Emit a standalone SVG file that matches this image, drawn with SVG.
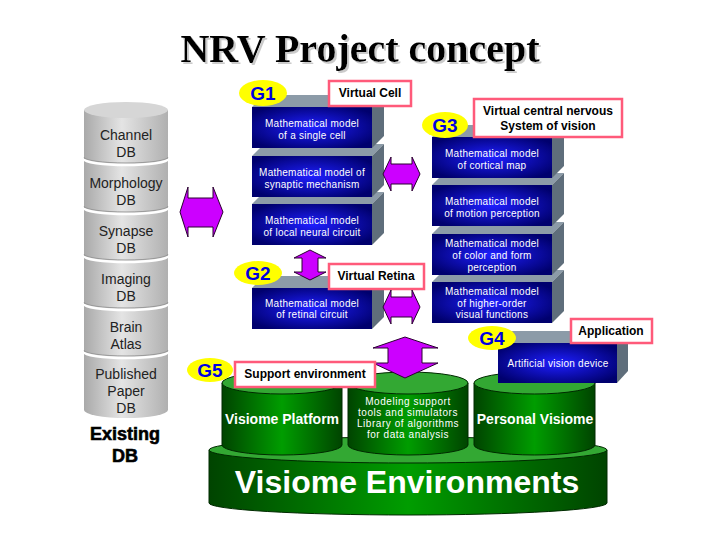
<svg xmlns="http://www.w3.org/2000/svg" width="720" height="540" viewBox="0 0 720 540">
<defs>
<linearGradient id="gray" x1="0" y1="0" x2="1" y2="0">
<stop offset="0" stop-color="#a9a9a9"/><stop offset="0.45" stop-color="#e4e4e4"/><stop offset="1" stop-color="#b0b0b0"/>
</linearGradient>
<linearGradient id="green" x1="0" y1="0" x2="1" y2="0">
<stop offset="0" stop-color="#004400"/><stop offset="0.5" stop-color="#009d00"/><stop offset="1" stop-color="#004400"/>
</linearGradient>
<radialGradient id="blue" cx="0.5" cy="0.5" r="0.6">
<stop offset="0" stop-color="#1e1eff"/><stop offset="1" stop-color="#00006e"/>
</radialGradient>
<filter id="shadow" x="-5%" y="-20%" width="110%" height="140%">
<feOffset in="SourceAlpha" dx="2" dy="2" result="o"/>
<feColorMatrix in="o" type="matrix" values="0 0 0 0 0.6  0 0 0 0 0.6  0 0 0 0 0.6  0 0 0 1 0" result="g"/>
<feMerge><feMergeNode in="g"/><feMergeNode in="SourceGraphic"/></feMerge>
</filter>
<style>
.t{font-family:"Liberation Sans",Arial,sans-serif}
.title{font-family:"Liberation Serif","Times New Roman",serif;font-weight:bold;font-size:40px}
.db{font-family:"Liberation Sans",Arial,sans-serif;font-size:14px;fill:#222;text-anchor:middle}
.sep{fill:none;stroke:#fff;stroke-width:2.5}
.sep2{fill:none;stroke:#999;stroke-width:1}
.front{fill:url(#blue)}
.top{fill:#8c9ba8}
.side{fill:#5f6e7b}
.bt{font-family:"Liberation Sans",Arial,sans-serif;font-size:10px;fill:#fff;text-anchor:middle;letter-spacing:0.25px}
.mt{font-family:"Liberation Sans",Arial,sans-serif;font-size:10px;fill:#fff;text-anchor:middle;letter-spacing:0.55px}
.gel{fill:#ffff00}
.gt{font-family:"Liberation Sans",Arial,sans-serif;font-size:19px;font-weight:bold;fill:#0000e0;text-anchor:middle}
.lab{fill:#fff;stroke:#ff5a7a;stroke-width:2.5}
.lt{font-family:"Liberation Sans",Arial,sans-serif;font-size:12px;font-weight:bold;fill:#000;text-anchor:middle}
.arr{fill:#cc00ff;stroke:#2a0030;stroke-width:1}
.cyl{fill:url(#green);stroke:#002a00;stroke-width:1}
.ctop{fill:#33a833;stroke:#002a00;stroke-width:1}
.gtx{font-family:"Liberation Sans",Arial,sans-serif;font-weight:bold;fill:#fff;text-anchor:middle}
</style>
</defs>
<rect width="720" height="540" fill="#fff"/>

<g id="title">
<text class="title" x="360" y="62" fill="#000" text-anchor="middle" filter="url(#shadow)">NRV Project concept</text>
</g>

<g id="existing-db">
<path d="M84,110 L84,410 A42,8 0 0 0 168,410 L168,110 Z" fill="url(#gray)"/>
<ellipse cx="126" cy="110" rx="42" ry="8" fill="#d6d6d6"/>
<path class="sep2" d="M84,157 A42,6 0 0 0 168,157"/>
<path class="sep" d="M84,159 A42,6 0 0 0 168,159"/>
<path class="sep2" d="M84,206 A42,6 0 0 0 168,206"/>
<path class="sep" d="M84,208 A42,6 0 0 0 168,208"/>
<path class="sep2" d="M84,254 A42,6 0 0 0 168,254"/>
<path class="sep" d="M84,256 A42,6 0 0 0 168,256"/>
<path class="sep2" d="M84,302 A42,6 0 0 0 168,302"/>
<path class="sep" d="M84,304 A42,6 0 0 0 168,304"/>
<path class="sep2" d="M84,350 A42,6 0 0 0 168,350"/>
<path class="sep" d="M84,352 A42,6 0 0 0 168,352"/>
<text class="db" x="126" y="140">Channel</text>
<text class="db" x="126" y="157">DB</text>
<text class="db" x="126" y="188">Morphology</text>
<text class="db" x="126" y="205">DB</text>
<text class="db" x="126" y="236">Synapse</text>
<text class="db" x="126" y="253">DB</text>
<text class="db" x="126" y="284">Imaging</text>
<text class="db" x="126" y="301">DB</text>
<text class="db" x="126" y="332">Brain</text>
<text class="db" x="126" y="349">Atlas</text>
<text class="db" x="126" y="379">Published</text>
<text class="db" x="126" y="396">Paper</text>
<text class="db" x="126" y="413">DB</text>
<text class="t" x="125" y="440" font-size="18" font-weight="bold" text-anchor="middle" stroke="#000" stroke-width="0.6">Existing</text>
<text class="t" x="125" y="462" font-size="18" font-weight="bold" text-anchor="middle" stroke="#000" stroke-width="0.6">DB</text>
</g>

<g id="visiome-environments">
<path class="cyl" d="M209,450 L209,503 A199,12 0 0 0 607,503 L607,450 Z"/>
<ellipse class="ctop" cx="408" cy="450" rx="199" ry="13"/>
<text class="gtx" x="407" y="493" font-size="32">Visiome Environments</text>
</g>

<g id="visiome-platform">
<path class="cyl" d="M222,383 L222,445 A60,10 0 0 0 342,445 L342,383 Z"/>
<ellipse class="ctop" cx="282" cy="383" rx="60" ry="11"/>
<text class="gtx" x="282" y="424" font-size="14">Visiome Platform</text>
</g>

<g id="modeling-support">
<path class="cyl" d="M348,383 L348,445 A60,10 0 0 0 468,445 L468,383 Z"/>
<ellipse class="ctop" cx="408" cy="383" rx="60" ry="11"/>
<text class="mt" x="408" y="405">Modeling support</text>
<text class="mt" x="408" y="416">tools and simulators</text>
<text class="mt" x="408" y="427">Library of algorithms</text>
<text class="mt" x="408" y="438">for data analysis</text>
</g>

<g id="personal-visiome">
<path class="cyl" d="M474,383 L474,445 A60.5,10 0 0 0 595,445 L595,383 Z"/>
<ellipse class="ctop" cx="534.5" cy="383" rx="60.5" ry="11"/>
<text class="gtx" x="535" y="424" font-size="14">Personal Visiome</text>
</g>

<g id="g1">
<polygon class="top" points="252,204 264,192 384,192 372,204"/>
<polygon class="side" points="372,204 384,192 384,233 372,245"/>
<rect class="front" x="252" y="204" width="120" height="41"/>
<text class="bt" x="312" y="224">Mathematical model</text>
<text class="bt" x="312" y="236">of local neural circuit</text>
<polygon class="top" points="252,156 264,144 384,144 372,156"/>
<polygon class="side" points="372,156 384,144 384,185 372,197"/>
<rect class="front" x="252" y="156" width="120" height="41"/>
<text class="bt" x="312" y="176">Mathematical model of</text>
<text class="bt" x="312" y="188">synaptic mechanism</text>
<polygon class="top" points="252,107 264,95 384,95 372,107"/>
<polygon class="side" points="372,107 384,95 384,136 372,148"/>
<rect class="front" x="252" y="107" width="120" height="41"/>
<text class="bt" x="312" y="127">Mathematical model</text>
<text class="bt" x="312" y="139">of a single cell</text>
<ellipse class="gel" cx="263" cy="93" rx="24" ry="13"/>
<text class="gt" x="263" y="100">G1</text>
<rect class="lab" x="329" y="81" width="82" height="25"/>
<text class="lt" x="370" y="97">Virtual Cell</text>
</g>

<g id="g2">
<polygon class="top" points="252,288 264,276 384,276 372,288"/>
<polygon class="side" points="372,288 384,276 384,317 372,329"/>
<rect class="front" x="252" y="288" width="120" height="41"/>
<text class="bt" x="312" y="307">Mathematical model</text>
<text class="bt" x="312" y="318">of retinal circuit</text>
<ellipse class="gel" cx="258" cy="273" rx="24" ry="12"/>
<text class="gt" x="258" y="280">G2</text>
<rect class="lab" x="329" y="264" width="95" height="25"/>
<text class="lt" x="376" y="280">Virtual Retina</text>
</g>

<g id="g3">
<polygon class="top" points="432,282 444,270 564,270 552,282"/>
<polygon class="side" points="552,282 564,270 564,311 552,323"/>
<rect class="front" x="432" y="282" width="120" height="41"/>
<text class="bt" x="492" y="295">Mathematical model</text>
<text class="bt" x="492" y="307">of higher-order</text>
<text class="bt" x="492" y="318">visual functions</text>
<polygon class="top" points="432,234 444,222 564,222 552,234"/>
<polygon class="side" points="552,234 564,222 564,263 552,275"/>
<rect class="front" x="432" y="234" width="120" height="41"/>
<text class="bt" x="492" y="247">Mathematical model</text>
<text class="bt" x="492" y="259">of color and form</text>
<text class="bt" x="492" y="271">perception</text>
<polygon class="top" points="432,185 444,173 564,173 552,185"/>
<polygon class="side" points="552,185 564,173 564,214 552,226"/>
<rect class="front" x="432" y="185" width="120" height="41"/>
<text class="bt" x="492" y="205">Mathematical model</text>
<text class="bt" x="492" y="217">of motion perception</text>
<polygon class="top" points="432,137 444,125 564,125 552,137"/>
<polygon class="side" points="552,137 564,125 564,166 552,178"/>
<rect class="front" x="432" y="137" width="120" height="41"/>
<text class="bt" x="492" y="157">Mathematical model</text>
<text class="bt" x="492" y="169">of cortical map</text>
<ellipse class="gel" cx="445" cy="125" rx="23" ry="13"/>
<text class="gt" x="445" y="132">G3</text>
<rect class="lab" x="474" y="99" width="148" height="38"/>
<text class="lt" x="548" y="115">Virtual central nervous</text>
<text class="lt" x="548" y="130">System of vision</text>
</g>

<g id="g4">
<polygon class="top" points="498,343 509,331 628,331 617,343"/>
<polygon class="side" points="617,343 628,331 628,371 617,383"/>
<rect class="front" x="498" y="343" width="119" height="40"/>
<text class="bt" x="558" y="367">Artificial vision device</text>
<ellipse class="gel" cx="492" cy="338" rx="24" ry="12"/>
<text class="gt" x="492" y="345">G4</text>
<rect class="lab" x="571" y="319" width="81" height="24"/>
<text class="lt" x="611" y="335">Application</text>
</g>

<g id="connectors">
<path class="arr" d="M180,212 L188,187 L188,198 L213,198 L213,187 L223,212 L213,237 L213,227 L188,227 L188,237 Z"/>
<path class="arr" d="M383,174 L391,157 L391,164 L412,164 L412,157 L420,174 L412,191 L412,184 L391,184 L391,191 Z"/>
<path class="arr" d="M383,307 L391,290 L391,297 L412,297 L412,290 L420,307 L412,324 L412,317 L391,317 L391,324 Z"/>
<path class="arr" d="M310,250 L326,258 L318,258 L318,272 L326,272 L310,280 L294,272 L302,272 L302,258 L294,258 Z"/>
<path class="arr" d="M405,337 L438,348 L422,348 L422,363 L438,363 L405,378 L373,363 L388,363 L388,348 L373,348 Z"/>
</g>

<g id="g5">
<ellipse class="gel" cx="210" cy="370" rx="23" ry="12"/>
<text class="gt" x="210" y="377">G5</text>
<rect class="lab" x="235" y="362" width="140" height="25"/>
<text class="lt" x="305" y="378">Support environment</text>
</g>
</svg>
